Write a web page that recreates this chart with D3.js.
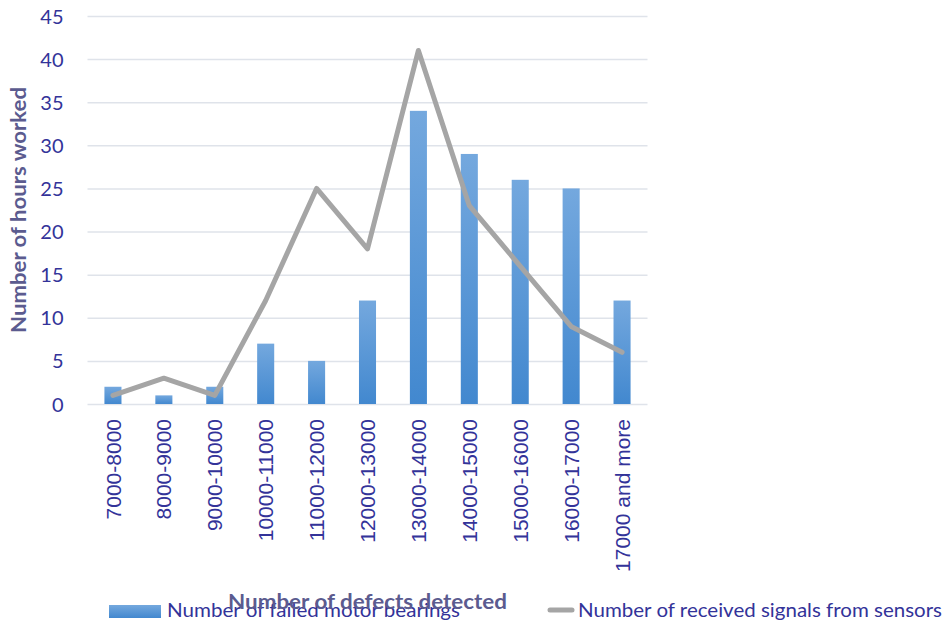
<!DOCTYPE html>
<html>
<head>
<meta charset="utf-8">
<script src="https://cdn.jsdelivr.net/npm/d3@7"></script>
<style>
  html, body { margin: 0; padding: 0; background: #fff; }
  svg { display: block; }
</style>
</head>
<body>
<svg id="chart" width="943" height="624"></svg>
<script>
const categories = ["7000-8000","8000-9000","9000-10000","10000-11000","11000-12000","12000-13000","13000-14000","14000-15000","15000-16000","16000-17000","17000 and more"];
const failedBearings = [2, 1, 2, 7, 5, 12, 34, 29, 26, 25, 12];
const receivedSignals = [1, 3, 1, 12, 25, 18, 41, 23, 16, 9, 6];
const yTicks = [0, 5, 10, 15, 20, 25, 30, 35, 40, 45];
const seriesNames = ["Number of failed motor bearings", "Number of received signals from sensors"];
const yTitle = "Number of hours worked";
const xTitle = "Number of defects detected";

const svg = d3.select("#chart");
const textColor = "#333399";
const titleColor = "#5b5b8f";
const uiFont = "Lato, 'Open Sans', sans-serif";

const x = d3.scaleBand().domain(categories).range([87.5, 647.5]).padding(0);
const y = d3.scaleLinear().domain([0, 45]).range([404, 16]);

const defs = svg.append("defs");
const grad = defs.append("linearGradient").attr("id", "barGrad")
  .attr("x1", 0).attr("y1", 0).attr("x2", 0).attr("y2", 1);
grad.append("stop").attr("offset", "0%").attr("stop-color", "#74a8de");
grad.append("stop").attr("offset", "100%").attr("stop-color", "#4288cf");

const legGrad = defs.append("linearGradient").attr("id", "legGrad")
  .attr("x1", 0).attr("y1", 0).attr("x2", 0).attr("y2", 1);
legGrad.append("stop").attr("offset", "0%").attr("stop-color", "#74a8de");
legGrad.append("stop").attr("offset", "100%").attr("stop-color", "#4288cf");

// gridlines
const yAxis = d3.axisLeft(y).tickValues(yTicks).tickSize(-(647.5 - 87.5)).tickPadding(24).tickFormat(d3.format("d"));
const gy = svg.append("g").attr("transform", "translate(87.5,0)").call(yAxis);
gy.select(".domain").remove();
gy.selectAll(".tick line").attr("stroke", "#dfe3ea").attr("stroke-width", 1.5);
gy.selectAll(".tick text").attr("fill", textColor).attr("font-family", uiFont)
  .attr("font-size", 20).attr("dy", "0.35em");

// bars
const barW = x.bandwidth() * 0.335;
svg.append("g").selectAll("rect").data(categories).join("rect")
  .attr("x", d => x(d) + x.bandwidth() / 2 - barW / 2)
  .attr("y", (d, i) => y(failedBearings[i]))
  .attr("width", barW)
  .attr("height", (d, i) => y(0) - y(failedBearings[i]))
  .attr("fill", "url(#barGrad)");

// line
const line = d3.line()
  .x((d, i) => x(categories[i]) + x.bandwidth() / 2)
  .y(d => y(d));
svg.append("path").datum(receivedSignals)
  .attr("d", line)
  .attr("fill", "none")
  .attr("stroke", "#a5a5a5")
  .attr("stroke-width", 5)
  .attr("stroke-linejoin", "round")
  .attr("stroke-linecap", "round");

// x tick labels (rotated)
const xAxis = d3.axisBottom(x).tickSize(0).tickPadding(0);
const gx = svg.append("g").attr("transform", "translate(0,404)").call(xAxis);
gx.select(".domain").remove();
gx.selectAll(".tick text")
  .attr("fill", textColor)
  .attr("font-family", "'Liberation Sans', Arial, sans-serif")
  .attr("font-size", 21)
  .attr("transform", "rotate(-90)")
  .attr("text-anchor", "end")
  .attr("x", -15)
  .attr("y", 0)
  .attr("dy", "0.36em");

// y title
svg.append("text")
  .attr("transform", "translate(26,210) rotate(-90)")
  .attr("text-anchor", "middle")
  .attr("fill", titleColor)
  .attr("font-family", uiFont)
  .attr("font-weight", "bold")
  .attr("font-size", 20)
  .attr("textLength", 246)
  .attr("lengthAdjust", "spacingAndGlyphs")
  .text(yTitle);

// legend
svg.append("rect").attr("x", 109).attr("y", 605).attr("width", 52).attr("height", 13)
  .attr("fill", "url(#legGrad)");
svg.append("text").attr("x", 167).attr("y", 617)
  .attr("fill", textColor).attr("font-family", uiFont).attr("font-size", 20)
  .attr("textLength", 293).attr("lengthAdjust", "spacingAndGlyphs")
  .text(seriesNames[0]);
svg.append("line").attr("x1", 550).attr("x2", 572).attr("y1", 610).attr("y2", 610)
  .attr("stroke", "#a5a5a5").attr("stroke-width", 5).attr("stroke-linecap", "round");
svg.append("text").attr("x", 578).attr("y", 617)
  .attr("fill", textColor).attr("font-family", uiFont).attr("font-size", 20)
  .attr("textLength", 364).attr("lengthAdjust", "spacingAndGlyphs")
  .text(seriesNames[1]);

// x title (overlaps legend, as in reference)
svg.append("text")
  .attr("x", 367.5).attr("y", 609)
  .attr("text-anchor", "middle")
  .attr("fill", titleColor)
  .attr("font-family", uiFont)
  .attr("font-weight", "bold")
  .attr("font-size", 21)
  .attr("textLength", 279)
  .attr("lengthAdjust", "spacingAndGlyphs")
  .text(xTitle);
</script>
</body>
</html>
